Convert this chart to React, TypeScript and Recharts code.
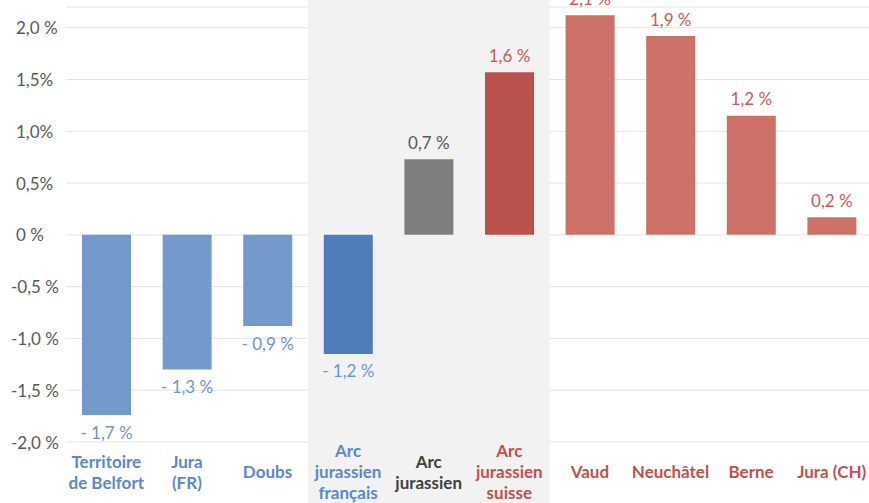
import React from "react";
import {
  BarChart, Bar, XAxis, YAxis, CartesianGrid, Cell, LabelList, ReferenceArea,
} from "recharts";

const categories = [
  "Territoire\nde Belfort",
  "Jura\n(FR)",
  "Doubs",
  "Arc\njurassien\nfrançais",
  "Arc\njurassien",
  "Arc\njurassien\nsuisse",
  "Vaud",
  "Neuchâtel",
  "Berne",
  "Jura (CH)",
];
const values = [-1.74, -1.3, -0.88, -1.15, 0.73, 1.57, 2.12, 1.92, 1.15, 0.17];
const valueLabels = ["- 1,7 %", "- 1,3 %", "- 0,9 %", "- 1,2 %", "0,7 %", "1,6 %", "2,1 %", "1,9 %", "1,2 %", "0,2 %"];
const barColors = ["#7399cb", "#7399cb", "#7399cb", "#4f7dbb", "#7f7f7f", "#b9524d", "#cc7168", "#cc7168", "#cc7168", "#cc7168"];
const textColors = ["#6b95cf", "#6b95cf", "#6b95cf", "#6b95cf", "#595959", "#c95a55", "#c95a55", "#c95a55", "#c95a55", "#c95a55"];
const catColors = ["#5b88c8", "#5b88c8", "#5b88c8", "#5b88c8", "#404040", "#c0504d", "#c0504d", "#c0504d", "#c0504d", "#c0504d"];
const yTicks = [-2, -1.5, -1, -0.5, 0, 0.5, 1, 1.5, 2];
const yTickLabels = ["-2,0 %", "-1,5 %", "-1,0 %", "-0,5 %", "0 %", "0,5%", "1,0%", "1,5%", "2,0 %"];

const data = categories.map((c, i) => ({ name: c, value: values[i], label: valueLabels[i] }));

const FONT = "Lato, 'Open Sans', sans-serif";

const CatTick = (props: any) => {
  const { x, y, payload, index } = props;
  const lines = String(payload.value).split("\n");
  const lh = 21;
  const cy = y + 21;
  const start = cy - ((lines.length - 1) * lh) / 2;
  return (
    <text x={x} y={start} textAnchor="middle" dominantBaseline="central"
      fill={catColors[index]} fontFamily={FONT} fontSize={17} fontWeight={700}>
      {lines.map((l, i) => (
        <tspan key={i} x={x} y={start + i * lh}>{l}</tspan>
      ))}
    </text>
  );
};

const ValTick = (props: any) => {
  const { y, payload } = props;
  const i = yTicks.indexOf(payload.value);
  const neg = payload.value < 0;
  return (
    <text x={neg ? 11 : 16} y={y} dominantBaseline="central" textAnchor="start"
      fill="#595959" fontFamily={FONT} fontSize={17}>
      {yTickLabels[i]}
    </text>
  );
};

const BarLabel = (props: any) => {
  const { x, y, width, height, index } = props;
  const v = values[index];
  const cx = x + width / 2;
  const top = Math.min(y, y + height);
  const bottom = Math.max(y, y + height);
  const ty = v >= 0 ? top - 17 : bottom + 17;
  return (
    <text x={cx} y={ty} textAnchor="middle" dominantBaseline="central"
      fill={textColors[index]} fontFamily={FONT} fontSize={17}>
      {valueLabels[index]}
    </text>
  );
};

export default function App() {
  return (
    <div style={{ position: "absolute", left: 0, top: 0, width: 869, height: 503, overflow: "hidden", background: "#fff" }}>
      <BarChart width={872} height={503} data={data} margin={{ top: 7, right: 0, left: 0, bottom: 0 }}>
        <ReferenceArea x1={categories[3]} x2={categories[5]} y1={-2.7} y2={2.4}
          ifOverflow="visible" fill="#f2f2f2" fillOpacity={1} stroke="none" />
        <CartesianGrid vertical={false} stroke="#e4e4e4" />
        <XAxis dataKey="name" axisLine={false} tickLine={false} interval={0} height={61} tick={<CatTick />} />
        <YAxis domain={[-2, 2.2]} ticks={yTicks} width={66} axisLine={false} tickLine={false} tick={<ValTick />} />
        <Bar dataKey="value" barSize={49} isAnimationActive={false}>
          {data.map((_, i) => (
            <Cell key={i} fill={barColors[i]} />
          ))}
          <LabelList dataKey="label" content={<BarLabel />} />
        </Bar>
      </BarChart>
    </div>
  );
}
